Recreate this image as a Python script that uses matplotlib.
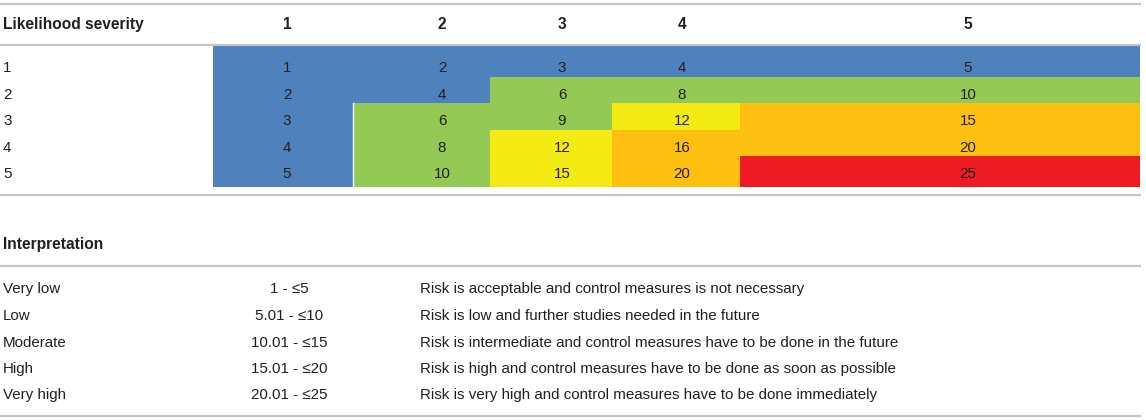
import matplotlib
matplotlib.use("Agg")
import matplotlib.pyplot as plt

plt.rcParams['font.family'] = ['Liberation Sans', 'DejaVu Sans']

# risk matrix data
severity = ['1', '2', '3', '4', '5']
likelihood = ['1', '2', '3', '4', '5']
scores = [[1, 2, 3, 4, 5],
          [2, 4, 6, 8, 10],
          [3, 6, 9, 12, 15],
          [4, 8, 12, 16, 20],
          [5, 10, 15, 20, 25]]
# 0 very low, 1 low, 2 moderate, 3 high, 4 very high
risk_class = [[0, 0, 0, 0, 0],
              [0, 0, 1, 1, 1],
              [0, 1, 1, 2, 3],
              [0, 1, 2, 3, 3],
              [0, 1, 2, 3, 4]]

levels = ['Very low', 'Low', 'Moderate', 'High', 'Very high']
ranges = ['1 - \u22645', '5.01 - \u226410', '10.01 - \u226415',
          '15.01 - \u226420', '20.01 - \u226425']
descriptions = [
    'Risk is acceptable and control measures is not necessary',
    'Risk is low and further studies needed in the future',
    'Risk is intermediate and control measures have to be done in the future',
    'Risk is high and control measures have to be done as soon as possible',
    'Risk is very high and control measures have to be done immediately',
]

# layout (pixel units)
class_colors = ['#4f81bd', '#93c954', '#f5eb14', '#fec010', '#ed1c24']
col_edges = [213, 353, 490, 612, 740, 1140]
text_x = [287, 442, 562, 682, 968]
row_edges = [46, 77, 103, 130, 156, 187]
text_y = [67, 94, 120, 147, 173]
interp_y = [288, 315, 342, 368, 394]
fs_bold = 11.2
fs = 10.9
txt_col = '#231f20'
rule_col = '#c6c6c6'
off = 5.4  # baseline offset from visual centre

fig = plt.figure(figsize=(11.46, 4.2), dpi=100)
ax = fig.add_axes([0, 0, 1, 1])
ax.set_xlim(0, 1146)
ax.set_ylim(420, 0)
ax.axis('off')

# rules
for y in [4, 45, 195, 266, 416]:
    ax.plot([0, 1141], [y, y], color=rule_col, lw=1.6, solid_capstyle='butt')

# header
ax.text(3, 24 + off, 'Likelihood severity', fontsize=fs_bold,
        fontweight='bold', color=txt_col, va='baseline')
for j, s in enumerate(severity):
    ax.text(text_x[j], 24 + off, s, fontsize=fs_bold, fontweight='bold',
            color=txt_col, ha='center', va='baseline')

# matrix cells
for i, lk in enumerate(likelihood):
    ax.text(3, text_y[i] + off, lk, fontsize=fs, color=txt_col, va='baseline')
    for j in range(len(severity)):
        ax.bar(col_edges[j], row_edges[i + 1] - row_edges[i],
               width=col_edges[j + 1] - col_edges[j], bottom=row_edges[i],
               align='edge', color=class_colors[risk_class[i][j]], lw=0)
        ax.text(text_x[j], text_y[i] + off, str(scores[i][j]), fontsize=fs,
                color=txt_col, ha='center', va='baseline')

# thin white seam between the first column and the green cells
ax.plot([col_edges[1], col_edges[1]], [row_edges[2], row_edges[5]],
        color='white', lw=1)

# interpretation table
ax.text(3, 244 + off, 'Interpretation', fontsize=fs_bold, fontweight='bold',
        color=txt_col, va='baseline')
for k in range(len(levels)):
    y = interp_y[k] + off
    ax.text(3, y, levels[k], fontsize=fs, color=txt_col, va='baseline')
    ax.text(289, y, ranges[k], fontsize=fs, color=txt_col, ha='center',
            va='baseline')
    ax.text(420, y, descriptions[k], fontsize=fs, color=txt_col, va='baseline')

fig.savefig('out.png', dpi=100)
